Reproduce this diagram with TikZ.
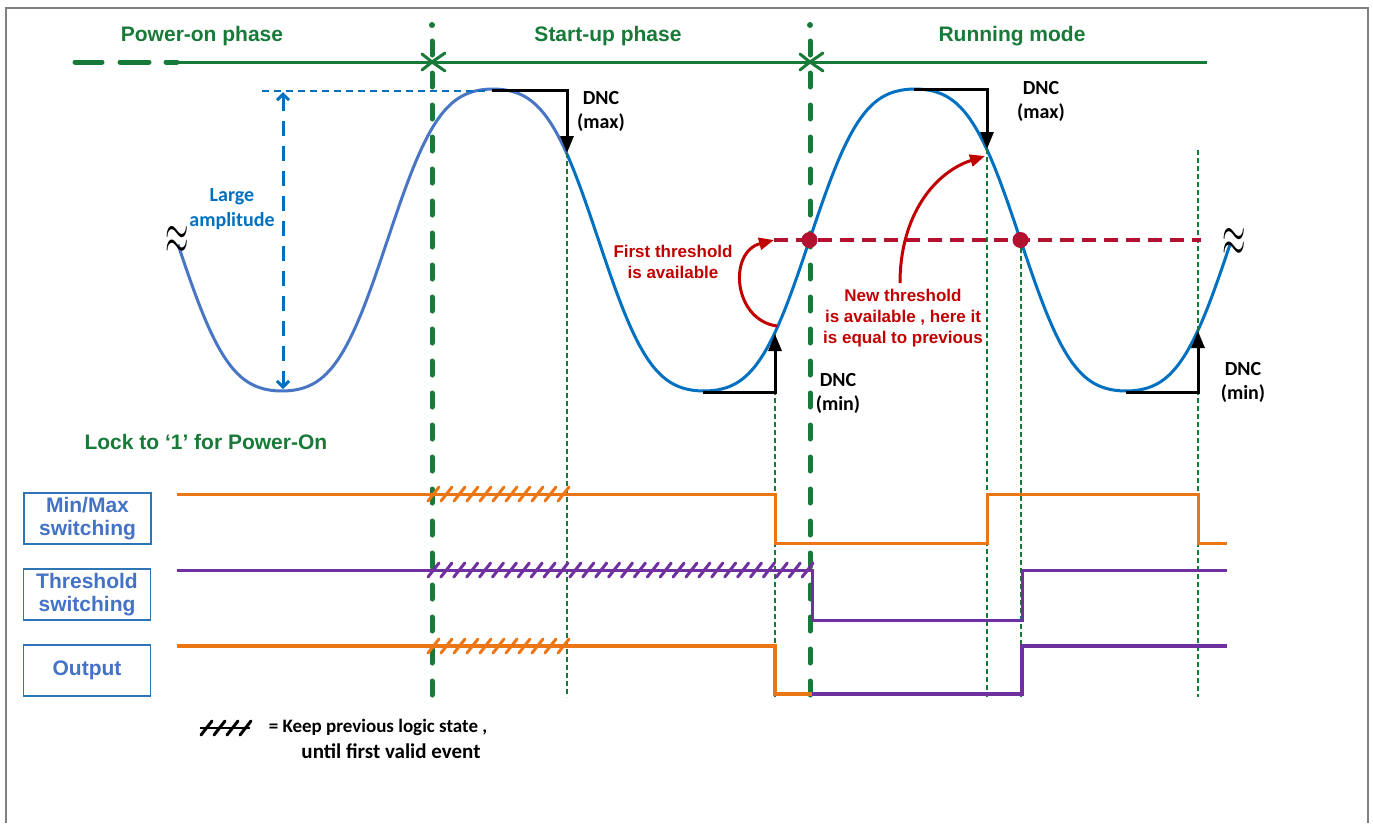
\documentclass[tikz,border=0pt]{standalone}
\usepackage{fontspec}
\setmainfont{Liberation Sans}
\newfontfamily\calibfont{Carlito}
\usetikzlibrary{arrows.meta}
\definecolor{gr}{RGB}{24,122,56}
\definecolor{wavea}{RGB}{72,118,196}
\definecolor{waveb}{RGB}{0,112,192}
\definecolor{amp}{RGB}{0,112,192}
\definecolor{boxtxt}{RGB}{68,114,196}
\definecolor{boxline}{RGB}{46,117,182}
\definecolor{orng}{RGB}{236,118,20}
\definecolor{purp}{RGB}{112,48,160}
\definecolor{redt}{RGB}{192,0,0}
\definecolor{thr}{RGB}{178,18,48}
\definecolor{frm}{RGB}{128,128,128}
\newcommand\wavey[1]{240-151*(cos(360*((#1-493)/422))-0.075*cos(1080*((#1-493)/422)))/0.925}
\begin{document}
\begin{tikzpicture}[x=1pt,y=-1pt,
  phlbl/.style={text=gr, font=\fontsize{21}{24}\selectfont\bfseries},
  thickgreen/.style={gr, line width=5pt, line cap=round, dash pattern=on 14pt off 18pt},
  thingreen/.style={gr, line width=2.5pt, dash pattern=on 5pt off 3pt},
  sigline/.style={line width=3pt, line join=miter},
  outline/.style={line width=4.5pt, line join=miter},
  hatchst/.style={line width=3pt, line cap=round},
  dncarrow/.style={black, line width=3pt, -{Triangle[length=17pt,width=13pt]}},
  redarrow/.style={redt, line width=3pt, -{Triangle[length=15pt,width=12pt]}},
  dnclbl/.style={font=\calibfont\fontsize{20}{24}\selectfont\bfseries, align=center},
  redlbl/.style={text=redt, font=\fontsize{17}{21}\selectfont\bfseries, align=center},
  boxlbl/.style={draw=boxline, line width=1.5pt, text=boxtxt, minimum width=127pt, minimum height=51pt, inner sep=0pt, align=center, font=\fontsize{21}{23}\selectfont\bfseries},
  legendlbl/.style={font=\calibfont\fontsize{20}{24}\selectfont\bfseries},
  brk/.style={font=\fontsize{22}{22}\selectfont, inner sep=0pt}
]
\useasboundingbox (0,0) rectangle (1373,823);
% frame
\draw[frm, line width=2pt] (6,823) -- (6,8) -- (1368,8) -- (1368,823);

% phase line
\coordinate (phA) at (177,62);
\coordinate (phB) at (1207,62);
\draw[gr, line width=3pt] (phA) -- (phB);
\draw[gr, line width=5pt, line cap=round] (75,62) -- (102,62) (120,62) -- (149,62) (166,62) -- (phA);

% thick green phase separators
\foreach \xx/\nm in {432/s1, 810/s2} {
  \coordinate (\nm top) at (\xx,41);
  \coordinate (\nm bot) at (\xx,697);
  \fill[gr] (\xx,25) circle[radius=3pt];
  \draw[thickgreen] (\nm top) -- (\nm bot);
  \draw[gr, line width=3pt, line cap=round, line join=miter] (\xx-10,54) -- (\xx,62) -- (\xx-10,70);
  \draw[gr, line width=3pt, line cap=round, line join=miter] (\xx+13,53) -- (\xx,62) -- (\xx+13,71);
}

% phase labels
\node[phlbl] (pwr) at (202,36) {Power-on phase};
\node[phlbl] (stu) at (608,36) {Start-up phase};
\node[phlbl] (run) at (1012,36) {Running mode};

% wave
\draw[wavea, line width=3pt] plot[domain=178:567, samples=140] (\x, {\wavey{\x}});
\draw[waveb, line width=3pt] plot[domain=567:1230, samples=220] (\x, {\wavey{\x}});
\node[brk] (tl) at (177,240) {\scalebox{1.45}[2.8]{$\approx$}};
\node[brk] (tr) at (1234,242) {\scalebox{1.45}[2.8]{$\approx$}};

% large amplitude
\coordinate (ampL) at (262,91);
\coordinate (pk1) at (490,91);
\coordinate (ampTop) at (283,92);
\coordinate (ampBot) at (283,389);
\draw[amp, line width=2pt, dash pattern=on 7pt off 5pt] (ampL) -- (pk1);
\draw[amp, line width=3pt, dash pattern=on 15pt off 10pt, {Straight Barb[length=6pt,width=12pt]}-{Straight Barb[length=6pt,width=12pt]}] (ampTop) -- (ampBot);
\node[text=amp, font=\calibfont\fontsize{20}{25}\selectfont\bfseries, align=center] (lamp) at (232,209) {Large\\amplitude};

% dotted verticals
\coordinate (d1t) at (567,153); \coordinate (d1b) at (567,697);
\coordinate (d2t) at (775,334); \coordinate (d2b) at (775,697);
\coordinate (d3t) at (987,149); \coordinate (d3b) at (987,697);
\coordinate (d4t) at (1021,248); \coordinate (d4b) at (1021,697);
\coordinate (d5t) at (1198,150); \coordinate (d5b) at (1198,697);
\foreach \nm in {d1,d2,d3,d4,d5} \draw[thingreen] (\nm t) -- (\nm b);

% threshold line
\coordinate (thS) at (774,240);
\coordinate (thE) at (1201,240);
\draw[thr, line width=3.5pt, dash pattern=on 14pt off 8pt] (thS) -- (thE);
\fill[thr] (809.5,240) circle[radius=8pt] coordinate (dot1);
\fill[thr] (1020.5,240) circle[radius=8pt] coordinate (dot2);

% DNC arrows
\coordinate (mx1a) at (492,90); \coordinate (mx1b) at (567,90);
\draw[dncarrow] (mx1a) -- (mx1b) -- (d1t);
\coordinate (mx2a) at (914,89); \coordinate (mx2b) at (987,89);
\draw[dncarrow] (mx2a) -- (mx2b) -- (d3t);
\coordinate (mn1a) at (703,392); \coordinate (mn1b) at (775,392);
\draw[dncarrow] (mn1a) -- (mn1b) -- (d2t);
\coordinate (mn2a) at (1126,392); \coordinate (mn2b) at (1198,392);
\coordinate (mn2t) at (1198,331);
\draw[dncarrow] (mn2a) -- (mn2b) -- (mn2t);
\node[dnclbl] (dncmax1) at (601,111) {DNC\\(max)};
\node[dnclbl] (dncmax2) at (1041,101) {DNC\\(max)};
\node[dnclbl] (dncmin1) at (838,393) {DNC\\(min)};
\node[dnclbl] (dncmin2) at (1243,382) {DNC\\(min)};

% red arrows and labels
\coordinate (r1s) at (777,326);
\draw[redarrow] (r1s) .. controls (733,320) and (728,252) .. (thS);
\coordinate (r2s) at (900,283);
\coordinate (r2t) at (985,156);
\draw[redarrow] (r2s) .. controls (900,215) and (935,172) .. (r2t);
\node[redlbl] (ft) at (673,262) {First threshold\\is available};
\node[redlbl] (nt) at (903,318) {New threshold\\is available , here it\\is equal to previous};

% lock text
\node[text=gr, font=\fontsize{21}{24}\selectfont\bfseries, anchor=west] (lock) at (81,442) {Lock to ‘1’ for Power-On};

% signal boxes
\node[boxlbl] (bmm) at (87.5,518.5) {Min/Max\\switching};
\node[boxlbl] (bth) at (87,594.5) {Threshold\\switching};
\node[boxlbl] (bout) at (87,670.5) {Output};

% signals
\draw[orng, sigline] (177,494) -- (775,494) -- (775,543) -- (987,543) -- (987,494) -- (1198,494) -- (1198,543) -- (1227,543);
\draw[purp, sigline] (177,570) -- (812,570) -- (812,620) -- (1022,620) -- (1022,570) -- (1227,570);
\draw[orng, outline] (177,646) -- (775,646) -- (775,694) -- (812,694);
\draw[purp, outline] (812,694) -- (1022,694) -- (1022,646) -- (1227,646);

% hatches
\foreach \i in {0,...,10} \draw[orng, hatchst] ({428+13*\i},501) -- ++(11,-14);
\foreach \i in {0,...,10} \draw[orng, hatchst] ({428+13*\i},653) -- ++(11,-14);
\foreach \i in {0,...,29} \draw[purp, hatchst] ({428+12.9*\i},577) -- ++(11,-14);

% legend
\coordinate (lgA) at (200,728);
\coordinate (lgB) at (250,728);
\draw[black, line width=2pt] (lgA) -- (lgB);
\foreach \i in {0,...,3} \draw[black, hatchst] ({201+13*\i},735) -- ++(11,-14);
\node[legendlbl, font=\calibfont\fontsize{19}{24}\selectfont\bfseries] (lg1) at (378,727) {= Keep previous logic state ,};
\node[legendlbl, font=\calibfont\fontsize{21}{24}\selectfont\bfseries] (lg2) at (391,751) {until first valid event};
\end{tikzpicture}
\end{document}
